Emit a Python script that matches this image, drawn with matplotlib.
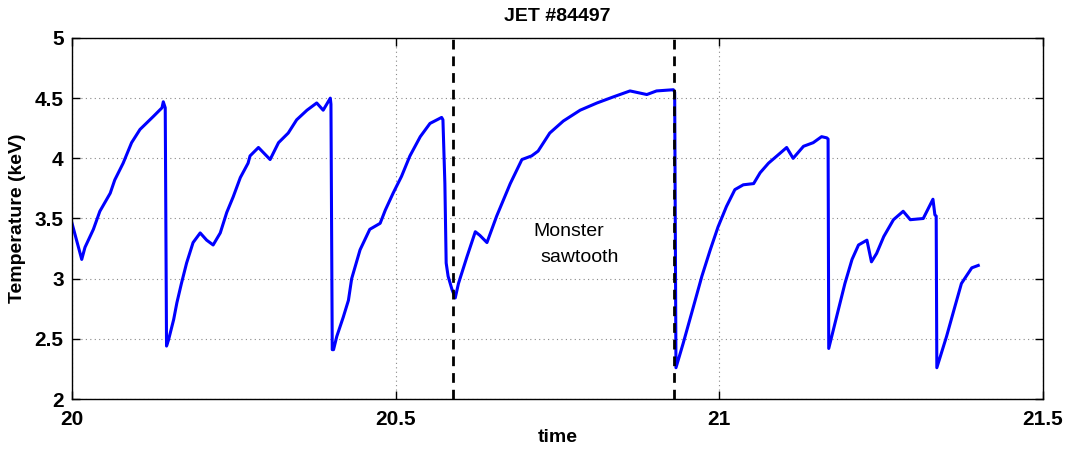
import matplotlib
matplotlib.use("Agg")
import matplotlib.pyplot as plt

time = [20.000, 20.015, 20.020, 20.033, 20.043, 20.059, 20.066, 20.079, 20.092, 20.105,
        20.126, 20.139, 20.141, 20.144, 20.146,
        20.149, 20.157, 20.162, 20.169, 20.177, 20.187, 20.198, 20.208, 20.218, 20.229,
        20.239, 20.249, 20.260, 20.272, 20.275, 20.288, 20.306, 20.319, 20.334, 20.347,
        20.363, 20.378, 20.388, 20.399, 20.400, 20.402,
        20.404, 20.409, 20.419, 20.427, 20.432, 20.445, 20.460, 20.476, 20.484, 20.496,
        20.509, 20.522, 20.538, 20.553, 20.571, 20.573, 20.576, 20.578, 20.581, 20.587,
        20.592, 20.597, 20.610, 20.623, 20.630, 20.641, 20.656, 20.677, 20.695, 20.710,
        20.720, 20.738, 20.759, 20.785, 20.811, 20.836, 20.862, 20.888, 20.903, 20.929,
        20.931, 20.933,
        20.944, 20.957, 20.973, 20.986, 20.998, 21.011, 21.024, 21.037, 21.053, 21.063,
        21.076, 21.089, 21.104, 21.114, 21.130, 21.145, 21.158, 21.166, 21.168, 21.169,
        21.181, 21.194, 21.205, 21.215, 21.228, 21.235, 21.243, 21.254, 21.269, 21.284,
        21.295, 21.315, 21.330, 21.333, 21.335, 21.336,
        21.351, 21.364, 21.374, 21.390, 21.400]
temperature = [3.46, 3.16, 3.26, 3.41, 3.56, 3.71, 3.82, 3.96, 4.13, 4.24,
               4.35, 4.42, 4.47, 4.42, 2.44,
               2.49, 2.66, 2.80, 2.96, 3.13, 3.30, 3.38, 3.32, 3.28, 3.38,
               3.55, 3.68, 3.84, 3.96, 4.02, 4.09, 3.99, 4.13, 4.21, 4.32,
               4.40, 4.46, 4.40, 4.50, 4.45, 2.41,
               2.41, 2.52, 2.68, 2.82, 3.00, 3.24, 3.41, 3.46, 3.57, 3.71,
               3.85, 4.02, 4.18, 4.29, 4.34, 4.32, 3.79, 3.13, 3.02, 2.91,
               2.84, 2.96, 3.18, 3.39, 3.36, 3.30, 3.52, 3.79, 3.99, 4.02,
               4.06, 4.21, 4.31, 4.40, 4.46, 4.51, 4.56, 4.53, 4.56, 4.57,
               4.55, 2.26,
               2.46, 2.71, 3.02, 3.24, 3.43, 3.60, 3.74, 3.78, 3.79, 3.88,
               3.96, 4.02, 4.09, 4.00, 4.10, 4.13, 4.18, 4.17, 4.16, 2.42,
               2.68, 2.96, 3.16, 3.28, 3.32, 3.14, 3.21, 3.35, 3.49, 3.56,
               3.49, 3.50, 3.66, 3.53, 3.52, 2.26,
               2.52, 2.77, 2.96, 3.09, 3.11]

crash_times = [20.589, 20.930]
xticks = [20, 20.5, 21, 21.5]
yticks = [2, 2.5, 3, 3.5, 4, 4.5, 5]

plt.rcParams['font.family'] = ['Liberation Sans', 'DejaVu Sans']

fig = plt.figure(figsize=(10.67, 4.5), dpi=100)
ax = fig.add_axes([0.0675, 0.1133, 0.9100, 0.8023])

ax.plot(time, temperature, color='#0000ff', linewidth=2.2)
for ct in crash_times:
    ax.axvline(ct, color='black', linestyle=(0, (3.5, 2.5)), linewidth=2.0)

ax.set_xlim(20, 21.5)
ax.set_ylim(2, 5)
ax.set_xticks(xticks)
ax.set_xticklabels(['20', '20.5', '21', '21.5'])
ax.set_yticks(yticks)
ax.set_yticklabels(['2', '2.5', '3', '3.5', '4', '4.5', '5'])
ax.grid(True, color='#888888', linestyle=(0, (1, 3)), linewidth=0.8)
ax.tick_params(direction='in', top=True, right=True, length=6, width=1.0,
               labelsize=15)
ax.tick_params(axis='x', pad=8)
ax.tick_params(axis='y', pad=6)
for lab in ax.get_xticklabels() + ax.get_yticklabels():
    lab.set_fontweight('bold')
for sp in ax.spines.values():
    sp.set_linewidth(1.0)

ax.set_title('JET #84497', fontsize=14, fontweight='bold', pad=12)
ax.set_xlabel('time', fontsize=14, fontweight='bold', labelpad=0)
ax.set_ylabel('Temperature (keV)', fontsize=14, fontweight='bold', labelpad=6)

ax.text(20.712, 3.39, 'Monster', fontsize=14, ha='left', va='center')
ax.text(20.723, 3.18, 'sawtooth', fontsize=14, ha='left', va='center')

fig.savefig('out.png', dpi=100)
